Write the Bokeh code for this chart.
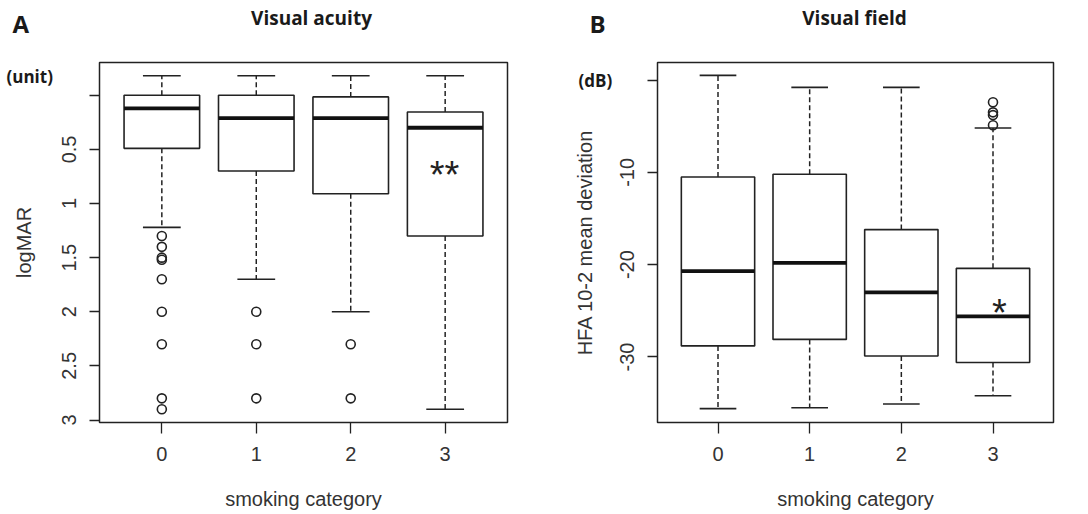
from bokeh.plotting import figure
from bokeh.layouts import row
from bokeh.models import Range1d, FixedTicker, Label, CustomJSTickFormatter
from bokeh.embed import file_html
from bokeh.resources import INLINE

# ---------------- data ----------------
categories = [0, 1, 2, 3]
x_tick_labels = ["0", "1", "2", "3"]

# Panel A: Visual acuity (logMAR, axis reversed)
va_whisker_top = [-0.18, -0.18, -0.18, -0.18]
va_box_top = [0.0, 0.0, 0.015, 0.155]
va_median = [0.12, 0.21, 0.21, 0.30]
va_box_bottom = [0.49, 0.70, 0.91, 1.30]
va_whisker_bottom = [1.22, 1.70, 2.0, 2.9]
va_outlier_cat = [0, 0, 0, 0, 0, 0, 0, 0, 0, 1, 1, 1, 2, 2]
va_outlier_val = [1.30, 1.40, 1.50, 1.52, 1.70, 2.0, 2.3, 2.8, 2.9,
                  2.0, 2.3, 2.8, 2.3, 2.8]
va_ticks = [0, 0.5, 1, 1.5, 2, 2.5, 3]

# Panel B: Visual field (HFA 10-2 mean deviation, dB)
vf_whisker_top = [0.5, -0.8, -0.8, -5.2]
vf_box_top = [-10.5, -10.2, -16.2, -20.4]
vf_median = [-20.7, -19.8, -23.0, -25.6]
vf_box_bottom = [-28.8, -28.1, -29.9, -30.6]
vf_whisker_bottom = [-35.6, -35.5, -35.1, -34.2]
vf_outlier_cat = [3, 3, 3, 3]
vf_outlier_val = [-2.4, -3.5, -3.8, -4.9]
vf_ticks = [0, -10, -20, -30]

TXT = "#333333"
LN = "#222222"
AX_FONT = "Liberation Sans"
T_FONT = "Open Sans"
XR = (-0.66, 3.66)
H = 514


def make_panel(width, mb_left, mb_right, y_top, y_bot, ticks, ylabel, ylab_standoff):
    p = figure(width=width, height=H, x_range=Range1d(*XR),
               y_range=Range1d(y_bot, y_top), output_backend="svg",
               toolbar_location=None, min_border_left=mb_left,
               min_border_right=mb_right, min_border_top=62,
               min_border_bottom=92, title=None)
    p.grid.visible = False
    p.outline_line_color = LN
    p.outline_line_width = 1.5
    p.background_fill_color = "white"
    p.border_fill_color = "white"
    p.xaxis.ticker = FixedTicker(ticks=categories)
    p.xaxis.major_label_overrides = {c: l for c, l in zip(categories, x_tick_labels)}
    p.yaxis.ticker = FixedTicker(ticks=ticks)
    p.yaxis.formatter = CustomJSTickFormatter(
        code="return tick == 0 ? '' : tick.toString();")
    p.yaxis.major_label_orientation = "vertical"
    for ax in (p.xaxis[0], p.yaxis[0]):
        ax.axis_line_color = None
        ax.major_tick_in = 0
        ax.major_tick_out = 10
        ax.major_tick_line_color = LN
        ax.major_tick_line_width = 1.3
        ax.minor_tick_line_color = None
        ax.major_label_text_font = AX_FONT
        ax.major_label_text_font_size = "20px"
        ax.major_label_text_color = TXT
        ax.axis_label_text_font = AX_FONT
        ax.axis_label_text_font_size = "20px"
        ax.axis_label_text_font_style = "normal"
        ax.axis_label_text_color = TXT
    p.xaxis.major_tick_out = 11
    p.xaxis.major_label_standoff = 13
    p.xaxis.axis_label = "smoking category"
    p.xaxis.axis_label_standoff = 24
    p.yaxis.major_label_standoff = 13
    p.yaxis.axis_label = ylabel
    p.yaxis.axis_label_standoff = ylab_standoff
    return p


def boxes(p, top, med, bot, wtop, wbot, ocat, oval):
    left = [c - 0.4 for c in categories]
    right = [c + 0.4 for c in categories]
    p.segment(x0=categories, y0=top, x1=categories, y1=wtop,
              line_color=LN, line_width=1.5, line_dash="5 3")
    p.segment(x0=categories, y0=bot, x1=categories, y1=wbot,
              line_color=LN, line_width=1.5, line_dash="5 3")
    p.segment(x0=[c - 0.2 for c in categories], y0=wtop,
              x1=[c + 0.2 for c in categories], y1=wtop,
              line_color=LN, line_width=1.6)
    p.segment(x0=[c - 0.2 for c in categories], y0=wbot,
              x1=[c + 0.2 for c in categories], y1=wbot,
              line_color=LN, line_width=1.6)
    p.quad(left=left, right=right, top=top, bottom=bot,
           fill_color="white", line_color=LN, line_width=1.6)
    p.segment(x0=left, y0=med, x1=right, y1=med,
              line_color="#111111", line_width=3.8)
    p.scatter(x=ocat, y=oval, marker="circle", size=9, fill_color=None,
              line_color=LN, line_width=1.6)


def to_data(frame, y_top, y_bot, X, Y):
    fx0, fx1, fy0, fy1 = frame
    x = XR[0] + (X - fx0) / (fx1 - fx0) * (XR[1] - XR[0])
    y = y_top + (Y - fy0) / (fy1 - fy0) * (y_bot - y_top)
    return x, y


def label(p, frame, y_top, y_bot, X, Y, text, size, bold=False,
          align="left", font=T_FONT, color="#1a1a1a", place=None):
    x, y = to_data(frame, y_top, y_bot, X, Y)
    lbl = Label(x=x, y=y, text=text, text_font=font,
                text_font_size=size, text_color=color,
                text_font_style="bold" if bold else "normal",
                text_align=align, text_baseline="alphabetic")
    if place:
        p.add_layout(lbl, place)
    else:
        p.add_layout(lbl)


# ---------------- Panel A ----------------
frameA = (99, 507, 62, 422)
A_top, A_bot = -0.303, 3.023
pA = make_panel(567, 99, 60, A_top, A_bot, va_ticks, "logMAR", 25)
boxes(pA, va_box_top, va_median, va_box_bottom, va_whisker_top,
      va_whisker_bottom, va_outlier_cat, va_outlier_val)
label(pA, frameA, A_top, A_bot, 12, 22.5, "A", "24px", bold=True, place="above")
label(pA, frameA, A_top, A_bot, 311, 17, "Visual acuity", "19px", bold=True,
      align="center", place="above")
label(pA, frameA, A_top, A_bot, 6, 76, "(unit)", "17px", bold=True, place="right")
label(pA, frameA, A_top, A_bot, 444, 174, "**", "38px", align="center",
      font=AX_FONT, color="#222222")

# ---------------- Panel B ----------------
frameB = (657, 1053, 62, 422)
B_top, B_bot = 1.9, -37.1
pB = make_panel(521, 90, 35, B_top, B_bot, vf_ticks,
                "HFA 10-2 mean deviation", 22)
boxes(pB, vf_box_top, vf_median, vf_box_bottom, vf_whisker_top,
      vf_whisker_bottom, vf_outlier_cat, vf_outlier_val)
label(pB, frameB, B_top, B_bot, 589, 22.5, "B", "24px", bold=True, place="above")
label(pB, frameB, B_top, B_bot, 854, 17, "Visual field", "19px", bold=True,
      align="center", place="above")
label(pB, frameB, B_top, B_bot, 578, 80, "(dB)", "17px", bold=True, place="right")
label(pB, frameB, B_top, B_bot, 999, 312, "*", "38px", align="center",
      font=AX_FONT, color="#222222")

layout = row(pA, pB)
open("out.html", "w").write(file_html(layout, INLINE))
